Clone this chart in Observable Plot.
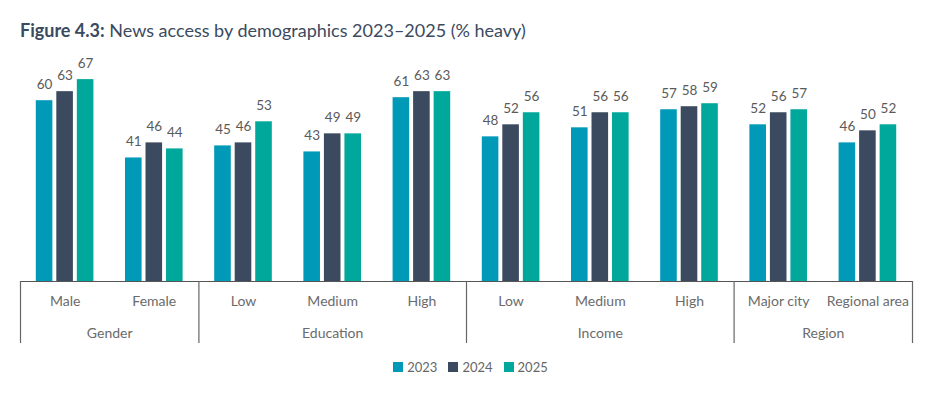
<!DOCTYPE html>
<html><head><meta charset="utf-8">
<script src="https://cdn.jsdelivr.net/npm/d3@7"></script>
<script src="https://cdn.jsdelivr.net/npm/@observablehq/plot@0.6"></script>
<style>
body{margin:0;background:#fff;font-family:Lato,"Open Sans",sans-serif;width:951px;height:399px;overflow:hidden;position:relative;}
#title{position:absolute;left:20px;top:19px;font-size:18px;color:#3b4a5e;white-space:nowrap;line-height:22px;}
#title b{font-weight:700;}
#chart{position:absolute;left:0;top:45px;}
#legend{position:absolute;top:359px;left:0;width:941px;display:flex;justify-content:center;gap:11px;font-size:13px;color:#666;}
#legend span.item{display:flex;align-items:center;gap:4px;}
#legend span.sw{width:10px;height:10px;display:inline-block;}
</style></head>
<body>
<div id="title"><b>Figure 4.3:</b> News access by demographics 2023–2025 (% heavy)</div>
<div id="chart"></div>
<div id="legend"></div>
<script>
const groups = ["Gender","Gender","Education","Education","Education","Income","Income","Income","Region","Region"];
const categories = ["Male","Female","Low","Medium","High","Low","Medium","High","Major city","Regional area"];
const years = ["2023","2024","2025"];
const v2023 = [60,41,45,43,61,48,51,57,52,46];
const v2024 = [63,46,46,49,63,52,56,58,56,50];
const v2025 = [67,44,53,49,63,56,56,59,57,52];
const colors = ["#0099b8","#3b4a5e","#00a89c"];

const series = [v2023, v2024, v2025];
const offset = 0.23, half = 0.093;
const rows = [];
categories.forEach((c, i) => {
  years.forEach((y, j) => {
    const cx = i + (j - 1) * offset;
    rows.push({i, year: y, value: series[j][i], x1: cx - half, x2: cx + half, cx});
  });
});
const groupList = [];
groups.forEach((g, i) => {
  const last = groupList[groupList.length - 1];
  if (last && last.name === g) last.end = i;
  else groupList.push({name: g, start: i, end: i});
});
groupList.forEach(g => g.center = (g.start + g.end) / 2);
const seps = groupList.map(g => g.start - 0.5).concat([groupList[groupList.length - 1].end + 0.5]);
const catRows = categories.map((c, i) => ({i, c}));

const plot = Plot.plot({
  width: 951,
  height: 310,
  marginTop: 10,
  marginBottom: 74,
  marginLeft: 20,
  marginRight: 39,
  style: {fontFamily: "Lato, 'Open Sans', sans-serif", background: "transparent"},
  x: {domain: [-0.5, categories.length - 0.5], axis: null},
  y: {domain: [0, 75], axis: null},
  color: {domain: years, range: colors},
  marks: [
    Plot.rectY(rows, {x1: "x1", x2: "x2", y: "value", fill: "year"}),
    Plot.text(rows, {x: "cx", y: "value", text: d => String(d.value), dy: -16, fill: "#5a5a5a", fontSize: 13.5}),
    Plot.ruleY([0], {stroke: "#555", strokeWidth: 1.2}),
    Plot.ruleX(seps, {x: d => d, y1: 0, y2: 0, insetBottom: -62, stroke: "#666", strokeWidth: 1.2}),
    Plot.text(catRows, {x: "i", y: 0, text: "c", dy: 20, fill: "#6b6b6b", fontSize: 14}),
    Plot.text(groupList, {x: "center", y: 0, text: "name", dy: 52, fill: "#6b6b6b", fontSize: 14})
  ]
});
document.getElementById("chart").appendChild(plot);

const legend = document.getElementById("legend");
years.forEach((y, j) => {
  const item = document.createElement("span");
  item.className = "item";
  const sw = document.createElement("span");
  sw.className = "sw";
  sw.style.background = colors[j];
  item.appendChild(sw);
  item.appendChild(document.createTextNode(y));
  legend.appendChild(item);
});
</script>
</body></html>
